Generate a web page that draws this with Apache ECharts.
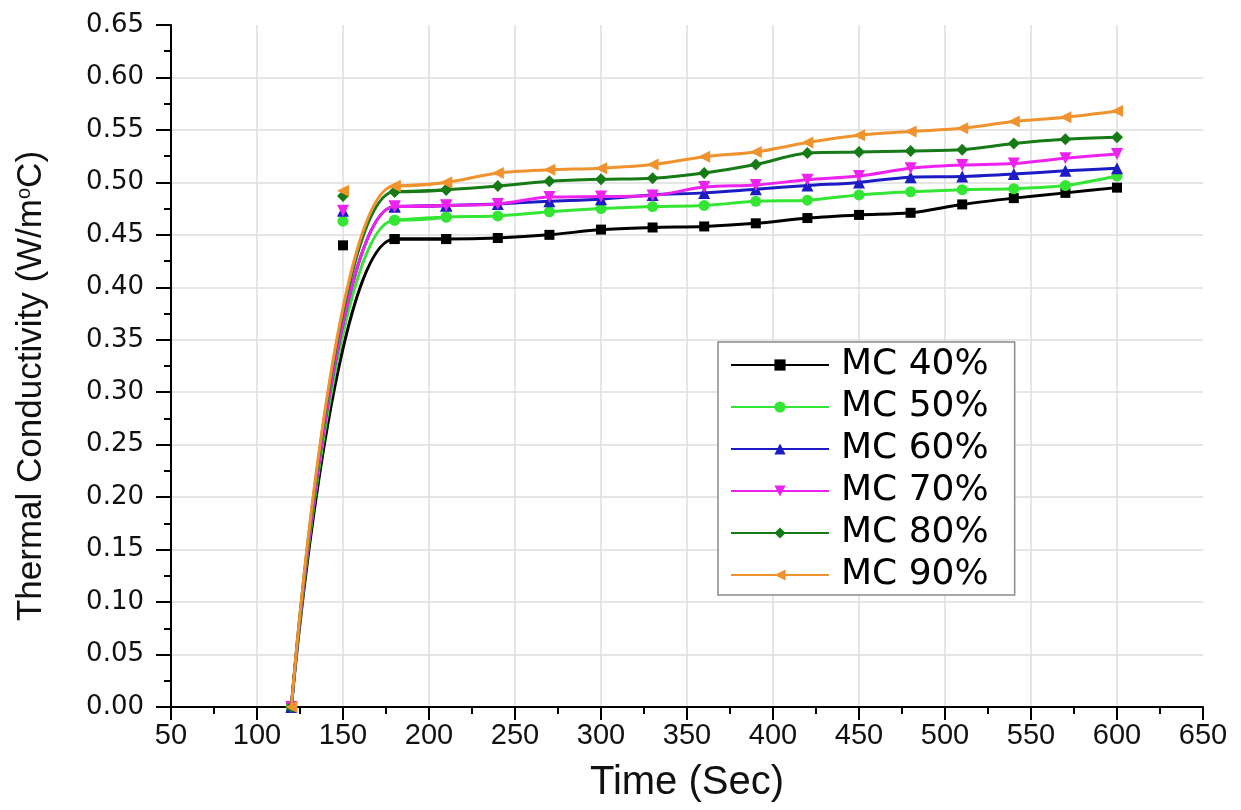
<!DOCTYPE html>
<html>
<head>
<meta charset="utf-8">
<script src="https://cdn.jsdelivr.net/npm/echarts@6/dist/echarts.min.js"></script>
<style>html,body{margin:0;padding:0;background:#fff}#chart{width:1241px;height:810px}</style>
</head>
<body>
<div id="chart"></div>
<script>
// ---- data ----
const seriesNames = ['MC 40%', 'MC 50%', 'MC 60%', 'MC 70%', 'MC 80%', 'MC 90%'];
const times = [120, 180, 210, 240, 270, 300, 330, 360, 390, 420, 450, 480, 510, 540, 570, 600];
const mc40 = [0, 0.446, 0.446, 0.447, 0.450, 0.455, 0.457, 0.458, 0.461, 0.466, 0.469, 0.471, 0.479, 0.485, 0.490, 0.495];
const mc50 = [0, 0.464, 0.467, 0.468, 0.472, 0.475, 0.477, 0.478, 0.482, 0.483, 0.488, 0.491, 0.493, 0.494, 0.497, 0.506];
const mc60 = [0, 0.477, 0.478, 0.4795, 0.482, 0.484, 0.488, 0.490, 0.4935, 0.497, 0.500, 0.505, 0.5055, 0.508, 0.511, 0.5135];
const mc70 = [0, 0.477, 0.478, 0.4795, 0.486, 0.4865, 0.4875, 0.4955, 0.4975, 0.5025, 0.506, 0.5135, 0.5165, 0.518, 0.523, 0.527];
const mc80 = [0, 0.491, 0.493, 0.4965, 0.501, 0.503, 0.504, 0.509, 0.517, 0.528, 0.529, 0.530, 0.531, 0.537, 0.541, 0.543];
const mc90 = [0, 0.4965, 0.500, 0.509, 0.512, 0.5135, 0.517, 0.5245, 0.529, 0.538, 0.545, 0.5485, 0.5515, 0.558, 0.562, 0.568];
// isolated readings at t = 150 s (off the fitted curve)
const earlyTime = 150;
const earlyValues = [0.440, 0.463, 0.473, 0.473, 0.487, 0.492];
const xAxisTitle = 'Time (Sec)';
const yAxisTitle = 'Thermal Conductivity (W/m{sup|o}C)';

// ---- styles ----
const colors = ['#000000', '#33e633', '#1c1cc4', '#ee22ee', '#167a16', '#f0922e'];
const symbols = ['rect', 'circle', 'triangle', 'triangle', 'diamond', 'triangle'];
const rotations = [0, 0, 0, 180, 0, 90];
const sizes = [10, 11, 12, 12, 12, 12];
const allValues = [mc40, mc50, mc60, mc70, mc80, mc90];
const RISE_POINTS = 3; // 120, 180, 210 -> fitted rise curve

// main measured curve (from 180 s on), with markers
const lineSeries = seriesNames.map((name, i) => ({
  name: name,
  type: 'line',
  data: times.map((t, j) => [t, allValues[i][j]]).slice(1),
  smooth: 0.3,
  symbol: symbols[i],
  symbolRotate: rotations[i],
  symbolSize: sizes[i],
  showAllSymbol: true,
  color: colors[i],
  lineStyle: { width: 3, color: colors[i] },
  itemStyle: { color: colors[i], opacity: 1 },
  z: 3 + i
}));
// the steep fitted rise from 120 s to the plateau
const riseSeries = seriesNames.map((name, i) => ({
  name: name,
  type: 'line',
  data: times.slice(0, RISE_POINTS).map((t, j) => [t, allValues[i][j]]),
  smooth: 0.6,
  smoothMonotone: 'x',
  symbol: symbols[i],
  symbolRotate: rotations[i],
  symbolSize: sizes[i],
  showSymbol: true,
  color: colors[i],
  lineStyle: { width: 3, color: colors[i] },
  itemStyle: { color: colors[i], opacity: 1 },
  z: 3 + i
}));
const earlySeries = seriesNames.map((name, i) => ({
  name: name,
  type: 'scatter',
  data: [[earlyTime, earlyValues[i]]],
  symbol: symbols[i],
  symbolRotate: rotations[i],
  symbolSize: sizes[i],
  itemStyle: { color: colors[i], opacity: 1 },
  z: 3 + i
}));

const chart = echarts.init(document.getElementById('chart'), null, { renderer: 'canvas' });
chart.setOption({
  backgroundColor: '#ffffff',
  animation: false,
  grid: { left: 171, right: 38, top: 25, bottom: 103, containLabel: false },
  legend: {
    data: seriesNames,
    orient: 'vertical',
    left: 718,
    top: 342,
    padding: [5, 26, 2, 12],
    itemWidth: 98,
    itemHeight: 14,
    itemGap: 6,
    backgroundColor: '#ffffff',
    borderColor: '#8a8a8a',
    borderWidth: 1.5,
    borderRadius: 0,
    textStyle: { fontFamily: 'DejaVu Sans', fontSize: 36, color: '#000', lineHeight: 36, padding: [0, 0, 0, 7] }
  },
  xAxis: {
    type: 'value',
    min: 50, max: 650, interval: 50,
    name: xAxisTitle,
    nameLocation: 'middle',
    nameGap: 56,
    nameTextStyle: { fontFamily: 'Liberation Sans', fontSize: 40, color: '#111' },
    axisLine: { show: true, onZero: false, lineStyle: { color: '#000', width: 2 } },
    axisTick: { show: true, inside: false, length: 13, lineStyle: { color: '#000', width: 2 } },
    minorTick: { show: true, splitNumber: 2, length: 7, lineStyle: { color: '#000', width: 2 } },
    axisLabel: { fontFamily: 'Liberation Sans', fontSize: 29, color: '#111', margin: 14 },
    splitLine: { show: true, showMinLine: false, showMaxLine: false, lineStyle: { color: '#dedede', width: 1.5 } }
  },
  yAxis: {
    type: 'value',
    min: 0, max: 0.65, interval: 0.05,
    name: yAxisTitle,
    nameLocation: 'middle',
    nameGap: 122,
    nameTextStyle: {
      fontFamily: 'Liberation Sans', fontSize: 35, color: '#111',
      padding: [0, 40, 0, 0],
      rich: { sup: { fontFamily: 'Liberation Sans', fontSize: 20, color: '#111', verticalAlign: 'top', padding: [0, 0, 12, 0] } }
    },
    axisLine: { show: true, onZero: false, lineStyle: { color: '#000', width: 2 } },
    axisTick: { show: true, inside: false, length: 15, lineStyle: { color: '#000', width: 2 } },
    minorTick: { show: true, splitNumber: 2, length: 7, lineStyle: { color: '#000', width: 2 } },
    axisLabel: { fontFamily: 'DejaVu Sans', fontSize: 26, color: '#111', margin: 27, formatter: v => v.toFixed(2) },
    splitLine: { show: true, showMinLine: false, showMaxLine: false, lineStyle: { color: '#dedede', width: 1.5 } }
  },
  series: lineSeries.concat(riseSeries, earlySeries)
});
</script>
</body>
</html>
